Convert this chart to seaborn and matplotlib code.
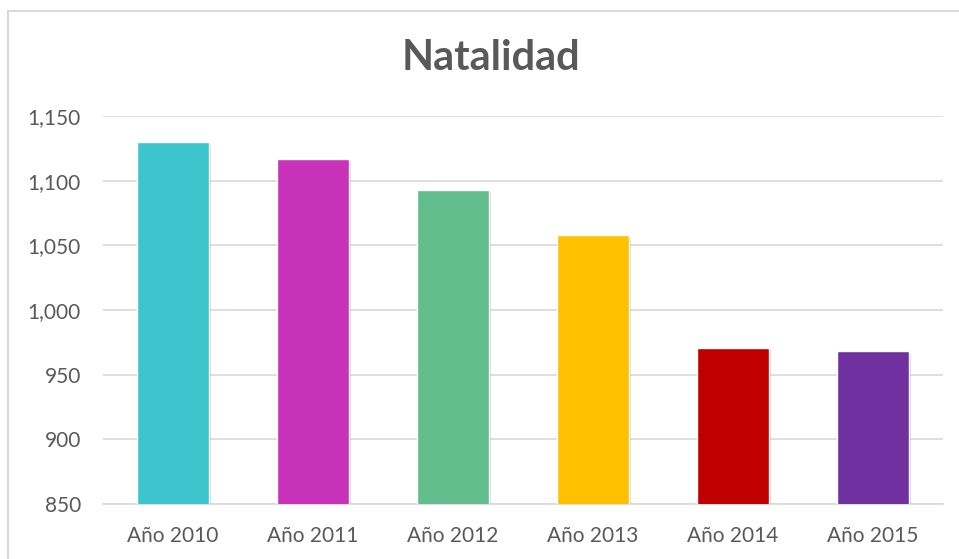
import matplotlib
matplotlib.use("Agg")
import matplotlib.pyplot as plt
import matplotlib.patheffects as pe
from matplotlib.patches import Rectangle
from matplotlib.ticker import FuncFormatter
import pandas as pd
import seaborn as sns

# data
years = ["Año 2010", "Año 2011", "Año 2012", "Año 2013", "Año 2014", "Año 2015"]
births = [1130, 1117, 1093, 1058, 971, 968]
bar_colors = ["#3CC5CC", "#C832B8", "#61BD8C", "#FFC000", "#C00000", "#7030A0"]

sns.set_theme(style="white")
plt.rcParams["font.family"] = ["Lato", "DejaVu Sans"]

df = pd.DataFrame({"year": years, "births": births})

fig = plt.figure(figsize=(9.59, 5.59), dpi=100)
ax = fig.add_axes([103 / 959, 1 - 504 / 559, 840 / 959, 388 / 559])

sns.barplot(data=df, x="year", y="births", hue="year", palette=bar_colors,
            legend=False, width=0.51, saturation=1, ax=ax, zorder=3)

for bar in ax.patches:
    bar.set_path_effects([pe.SimplePatchShadow(offset=(2, -2), shadow_rgbFace="#000000",
                                               alpha=0.15), pe.Normal()])

ax.set_ylim(850, 1150)
ax.set_yticks(range(850, 1151, 50))
ax.yaxis.set_major_formatter(FuncFormatter(lambda v, p: f"{int(v):,}"))
ax.set_xlim(-0.5, len(years) - 0.5)

ax.grid(axis="y", color="#D9D9D9", linewidth=1.2, zorder=0)
ax.grid(axis="x", visible=False)
for side in ["top", "right", "left"]:
    ax.spines[side].set_visible(False)
ax.spines["bottom"].set_color("#D9D9D9")
ax.spines["bottom"].set_linewidth(1.2)

ax.tick_params(axis="both", length=0, labelsize=15, colors="#595959")
ax.tick_params(axis="x", pad=16)
ax.tick_params(axis="y", pad=16)
ax.set_xlabel("")
ax.set_ylabel("")

fig.text(491 / 959, 1 - 58 / 559, "Natalidad", ha="center", va="center",
         fontsize=30, fontweight="bold", color="#595959")

# light frame around the chart area
fig.patches.append(Rectangle((8 / 959, -0.05), 1.2, 1 - 10.5 / 559 + 0.05,
                             transform=fig.transFigure, fill=False,
                             edgecolor="#D9D9D9", linewidth=1.5))

fig.savefig("out.png", dpi=100)
